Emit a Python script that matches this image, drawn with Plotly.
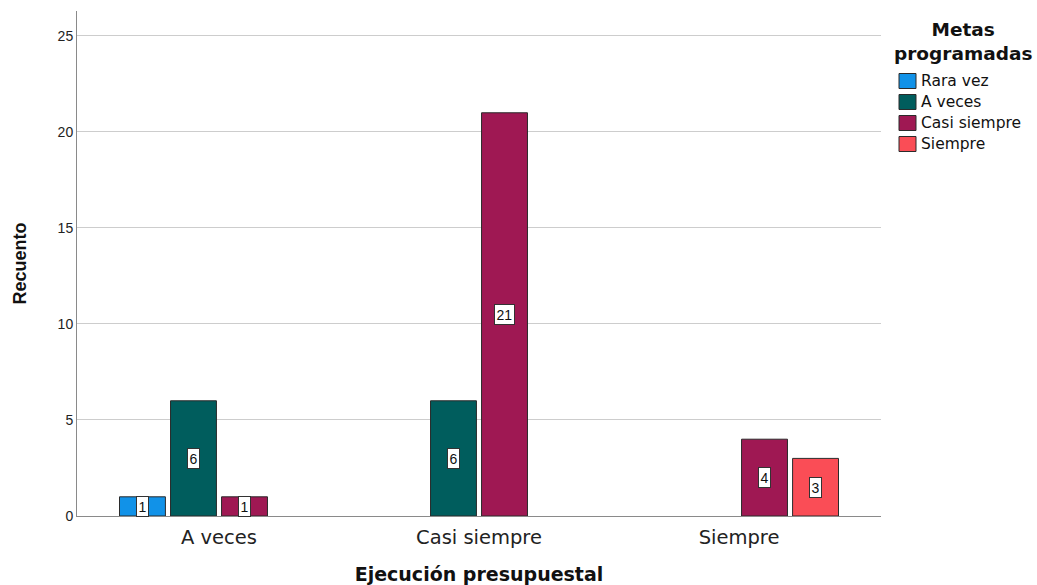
import plotly.graph_objects as go

# Cross-tab counts: Ejecución presupuestal (x) by Metas programadas (series)
categories = ["A veces", "Casi siempre", "Siempre"]
series_names = ["Rara vez", "A veces", "Casi siempre", "Siempre"]
rara_vez = [1, None, None]
a_veces = [6, 6, None]
casi_siempre = [1, 21, 4]
siempre = [None, None, 3]
y_ticks = [0, 5, 10, 15, 20, 25]

series_values = [rara_vez, a_veces, casi_siempre, siempre]
colors = ["#1192e8", "#005d5d", "#9f1853", "#fa4d56"]

W, H = 1037, 585
L, R, T, B = 77, 881, 11, 516  # plot area in pixels
BARGAP = 0.215
GROUPGAP = 0.1
SANS = "Liberation Sans, Arial, sans-serif"
WIDE = "DejaVu Sans, sans-serif"


def px_x(px):
    return (px - L) / (R - L)


def px_y(py):
    return (B - py) / (B - T)


fig = go.Figure()
for name, vals, col in zip(series_names, series_values, colors):
    fig.add_trace(go.Bar(
        name=name, x=categories, y=vals,
        marker=dict(color=col, line=dict(color="#2b2b2b", width=1)),
        showlegend=False, hoverinfo="x+y+name",
    ))

# Value labels in boxed tags at the middle of each bar
n = len(series_names)
slot = (1 - BARGAP) / n
annotations = []
for i, vals in enumerate(series_values):
    offset = -(1 - BARGAP) / 2 + slot * (i + 0.5)
    for j, v in enumerate(vals):
        if v is None:
            continue
        annotations.append(dict(
            x=j + offset, y=v / 2, xref="x", yref="y", text=str(v),
            showarrow=False, font=dict(family=SANS, size=14, color="#111"),
            bgcolor="white", bordercolor="#333", borderwidth=1, borderpad=1.5,
            xanchor="center", yanchor="middle",
        ))

# Legend drawn by hand: two-line title plus swatches
annotations.append(dict(
    x=px_x(963), y=px_y(41), xref="paper", yref="paper",
    text="<b>Metas<br>programadas</b>", showarrow=False, align="center",
    xanchor="center", yanchor="middle",
    font=dict(family=WIDE, size=18.5, color="#111"),
))
shapes = []
for k, (name, col) in enumerate(zip(series_names, colors)):
    cy = 81 + 21 * k
    shapes.append(dict(
        type="rect", xref="paper", yref="paper",
        x0=px_x(899), x1=px_x(916), y0=px_y(cy - 7.5), y1=px_y(cy + 7.5),
        fillcolor=col, line=dict(color="#2b2b2b", width=1),
    ))
    annotations.append(dict(
        x=px_x(919), y=px_y(cy), xref="paper", yref="paper",
        text=name, showarrow=False, xanchor="left", yanchor="middle",
        font=dict(family=WIDE, size=15.5, color="#111"),
    ))

fig.update_layout(
    width=W, height=H,
    margin=dict(l=L, r=W - R, t=T, b=H - B),
    paper_bgcolor="white", plot_bgcolor="white",
    barmode="group", bargap=BARGAP, bargroupgap=GROUPGAP,
    font=dict(family=SANS, color="#111"),
    annotations=annotations, shapes=shapes,
    xaxis=dict(
        range=[-0.5 - 12 / 260, 2.5 + 12 / 260], automargin=False,
        showline=True, linecolor="#8a8a8a", linewidth=1,
        showgrid=False, ticks="", zeroline=False, ticklabelstandoff=4,
        tickfont=dict(family=WIDE, size=19.5, color="#222"),
        title=dict(text="<b>Ejecución presupuestal</b>", standoff=27,
                   font=dict(family=WIDE, size=19, color="#111")),
    ),
    yaxis=dict(
        range=[0, 26.3], tickvals=y_ticks, automargin=False,
        showline=True, linecolor="#8a8a8a", linewidth=1,
        showgrid=True, gridcolor="#cdcdcd", gridwidth=1,
        zeroline=False, ticks="",
        tickfont=dict(family=SANS, size=14, color="#222"),
        title=dict(text="<b>Recuento</b>", standoff=26,
                   font=dict(family=SANS, size=18, color="#111")),
    ),
)

fig.write_html("out.html")
